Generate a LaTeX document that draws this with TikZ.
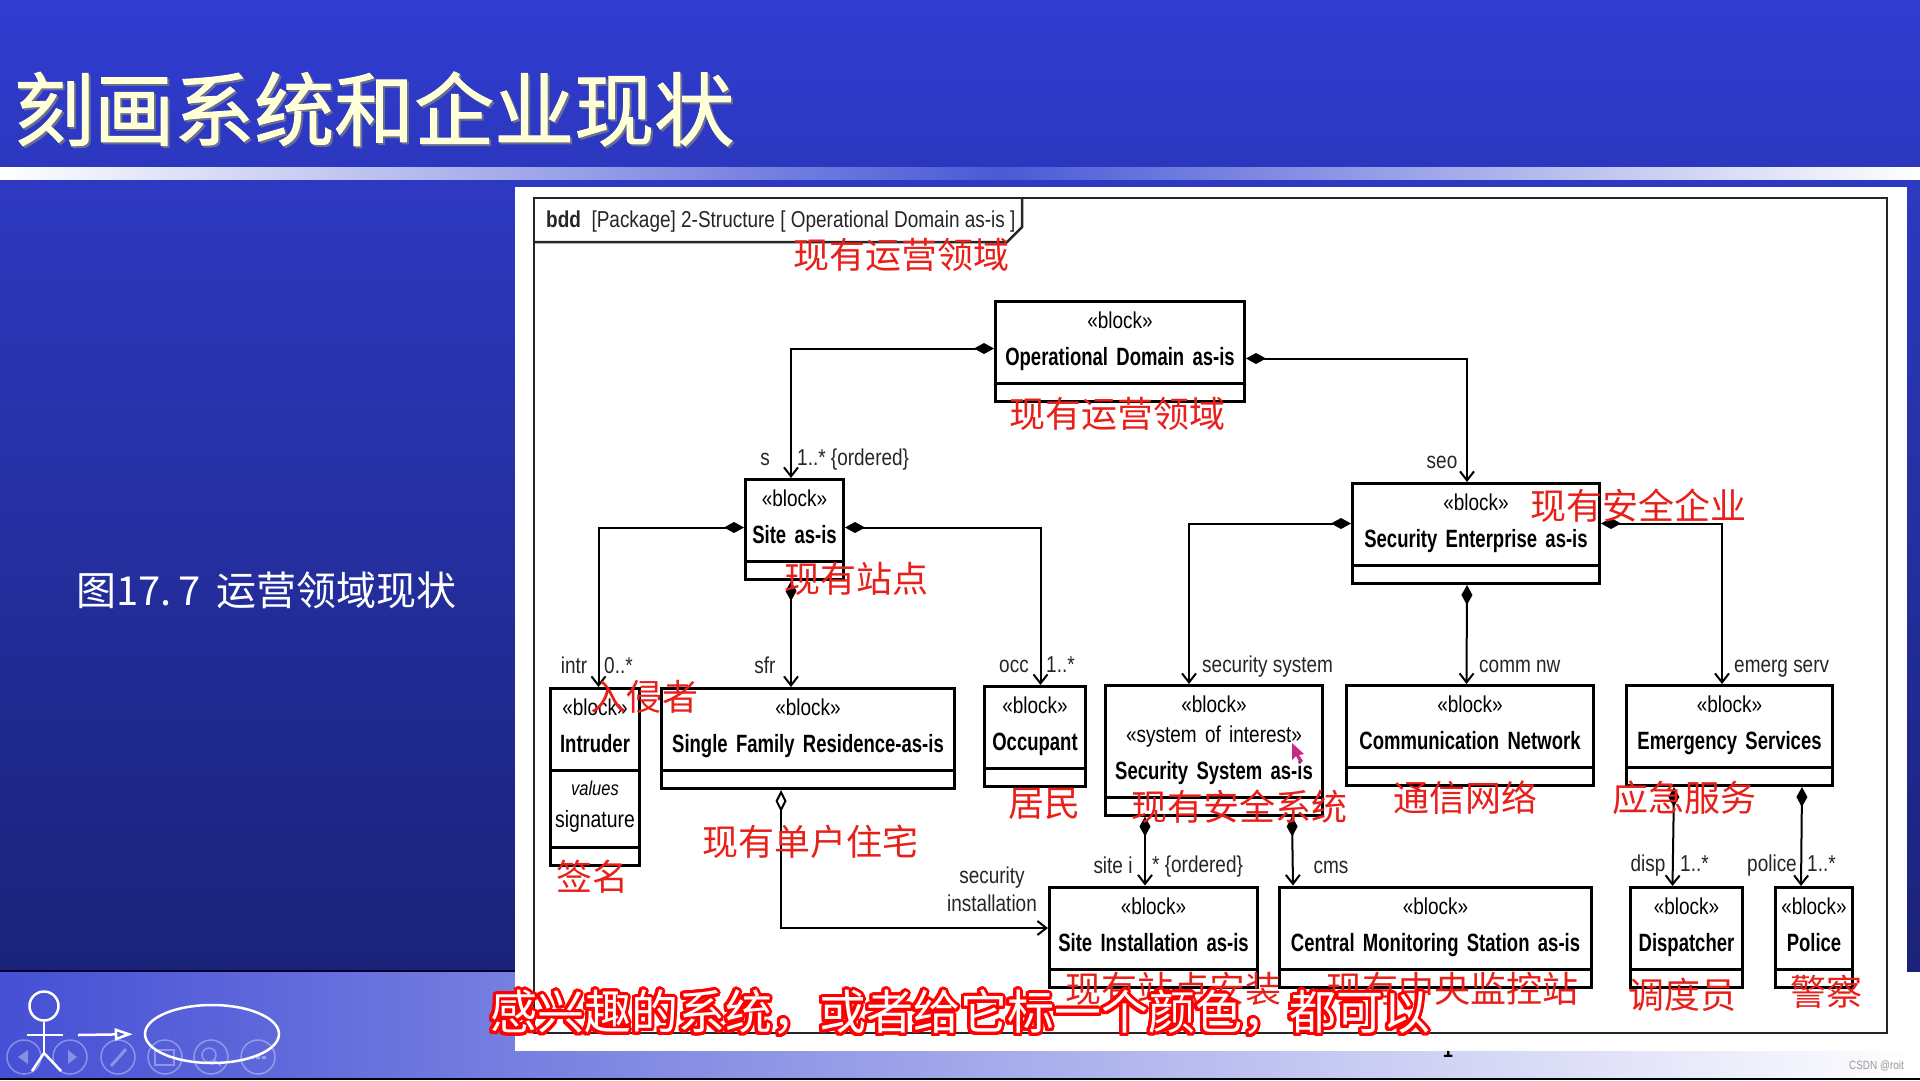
\documentclass[tikz,border=0pt]{standalone}
\usepackage{fontspec}
\usepackage{contour}
\setmainfont[FakeStretch=0.825]{Liberation Sans}
\newfontfamily\namefont[FakeStretch=0.74]{Liberation Sans}
\newfontfamily\cjkfont{Noto Sans CJK SC}
\newfontfamily\titlefont[FakeBold=1.2]{Noto Sans CJK SC}
\usetikzlibrary{arrows.meta,positioning,shapes.multipart,shapes.geometric,calc}
\contourlength{3pt}
\contournumber{32}
\newcommand{\blocktxt}[1]{\rule{0pt}{22pt}{\fontsize{23}{37}\selectfont«block»}\\\mbox{\namefont\bfseries #1}\rule[-13pt]{0pt}{1pt}}
\newcommand{\emptypart}{\rule{0pt}{8pt}}
\newcommand{\shadowtxt}[1]{\rlap{\kern2pt\raisebox{-2pt}{\color{shadowgray}#1}}#1}
\definecolor{shadowgray}{HTML}{6A6F90}
\definecolor{slideblue}{HTML}{303CD0}
\definecolor{midblue}{HTML}{2D39C0}
\definecolor{darknavy}{HTML}{1A2278}
\definecolor{cream}{HTML}{FFFFD8}
\definecolor{notered}{HTML}{E8201A}
\definecolor{bandblue}{HTML}{4A5AD6}
\begin{document}
\begin{tikzpicture}[x=1pt, y=-1pt, >=Latex,
  blok/.style={draw, rectangle split, rectangle split parts=2, rectangle split part align=center,
    line width=3pt, inner xsep=0pt, inner ysep=3.5pt, fill=white, align=center,
    font=\fontsize{25}{37}\selectfont},
  frame/.style={line width=2.5pt, black!85},
  lbl/.style={font=\fontsize{23}{28}\selectfont, inner sep=0pt, align=center, text=black!85, text height=22pt, text depth=6pt},
  lblleft/.style={lbl, anchor=west},
  note/.style={font=\cjkfont\fontsize{36}{36}\selectfont, text=notered, inner sep=0pt},
  comp/.style={line width=2pt, {Diamond[length=20pt,width=11pt]}-{Straight Barb[length=9pt,width=14pt,line width=2pt]}},
  compopen/.style={line width=2pt, {Diamond[open,length=22pt,width=11pt]}-{Straight Barb[length=9pt,width=14pt,line width=2pt]}},
  stick/.style={white, line width=2.5pt},
  navbtn/.style={circle, draw=white, opacity=0.35, line width=1.5pt, minimum size=34pt, inner sep=0pt}]
  \useasboundingbox (0,0) rectangle (1920,1080);
  % slide background
  \shade[top color=slideblue, bottom color=slideblue!92!black] (0,0) rectangle (1920,167);
  \shade[left color=white, right color=bandblue] (0,167) rectangle (1000,180);
  \shade[left color=bandblue, right color=white] (1000,167) rectangle (1920,180);
  \fill[midblue] (0,180) rectangle (1920,187);
  \shade[top color=midblue, bottom color=darknavy] (0,187) rectangle (1920,972);
  \shade[left color=slideblue!90!white, right color=white] (0,972) rectangle (1920,1078);
  \fill[black!80!blue] (0,970) rectangle (516,972);
  \fill[black] (0,1078) rectangle (1920,1080);
  \node[font=\bfseries\fontsize{22}{22}\selectfont, text=black, inner sep=0pt] (pagenum) at (1448,1050) {1};
  \fill[white] (515,187) rectangle (1907,1051);
  \fill[white] (1907,972) rectangle (1920,1078);
  \node[font=\titlefont\fontsize{80}{80}\selectfont, text=cream, anchor=west, inner sep=0pt] (title) at (14,110) {\shadowtxt{刻画系统和企业现状}};
  \node[font=\cjkfont\fontsize{40}{40}\selectfont, text=white, anchor=west, inner sep=0pt] (caption) at (76,590) {图17.\,7\ \kern7pt运营领域现状};
  % diagram frame
  \draw[frame] (534,198) rectangle (1887,1033);
  \draw[frame] (534,242) -- (1007,242) -- (1022,227) -- (1022,198);
  \node[lblleft] (framelbl) at (546,219) {\textbf{bdd}\ \ [Package] 2-Structure [ Operational Domain as-is ]};
  % blocks
  \node[blok, text width=249pt, anchor=north west] (dom) at (994,300) {\blocktxt{Operational Domain as-is}\nodepart{two}\emptypart};
  \node[blok, text width=98pt, below left=75pt and 149pt of dom] (site) {\blocktxt{Site as-is}\nodepart{two}\emptypart};
  \node[blok, text width=247pt, below right=79pt and 105pt of dom] (sec) {\blocktxt{Security Enterprise as-is}\nodepart{two}\emptypart};
  \node[blok, text width=89pt, rectangle split parts=3, below left=106pt and 103pt of site] (intr) {\blocktxt{Intruder}
    \nodepart{two}\rule{0pt}{20pt}{\fontsize{20}{31}\selectfont\textit{values}}\\[-5pt]{\fontsize{23.5}{31}\selectfont signature}\rule[-15pt]{0pt}{1pt}\nodepart{three}\emptypart};
  \node[blok, text width=293pt, below=106pt of site, xshift=13.5pt] (sfr) {\blocktxt{Single Family Residence-as-is}\nodepart{two}\emptypart};
  \node[blok, text width=101pt, below right=104pt and 138pt of site] (occ) {\blocktxt{Occupant}\nodepart{two}\emptypart};
  \node[blok, text width=217pt, below left=99pt and 27pt of sec] (secsys) {\rule{0pt}{22pt}{\fontsize{23}{37}\selectfont«block»}\\[-7.5pt]
    {\fontsize{23}{37}\selectfont«system of interest»}\\\mbox{\namefont\bfseries Security System as-is}\rule[-13pt]{0pt}{1pt}\nodepart{two}\emptypart};
  \node[blok, text width=247pt, below=99pt of sec, xshift=-6pt] (comm) {\blocktxt{Communication Network}\nodepart{two}\emptypart};
  \node[blok, text width=206pt, below right=99pt and 24pt of sec] (emerg) {\blocktxt{Emergency Services}\nodepart{two}\emptypart};
  \node[blok, text width=208pt, below=69pt of secsys, xshift=-60.5pt] (sinst) {\blocktxt{Site Installation as-is}\nodepart{two}\emptypart};
  \node[blok, text width=312pt, right=19pt of sinst] (cms) {\blocktxt{Central Monitoring Station as-is}\nodepart{two}\emptypart};
  \node[blok, text width=112pt, below right=99pt and 4pt of emerg.south west] (disp) {\blocktxt{Dispatcher}\nodepart{two}\emptypart};
  \node[blok, text width=77pt, right=30pt of disp] (police) {\blocktxt{Police}\nodepart{two}\emptypart};
  % connectors
  \draw[comp] ([yshift=3pt]dom.west) -| ([xshift=-3.5pt]site.north);
  \draw[comp] ([yshift=-7pt]dom.east) -| ([xshift=-9pt]sec.north);
  \draw[comp] ([yshift=2pt]site.west) -| ([xshift=3.5pt]intr.north);
  \draw[comp] ([xshift=-3.5pt]site.south) -- ([xshift=-17pt]sfr.north);
  \draw[comp] ([yshift=2pt]site.east) -| ([xshift=5.5pt]occ.north);
  \draw[comp] ([yshift=10pt]sec.west) -| ([xshift=-25pt]secsys.north);
  \draw[comp] ([xshift=-9pt]sec.south) -- ([xshift=-3.5pt]comm.north);
  \draw[comp] ([yshift=10pt]sec.east) -| ([xshift=-7.5pt]emerg.north);
  \draw[compopen] ([xshift=-27pt]sfr.south) |- ([yshift=9pt]sinst.west);
  \draw[comp] ([xshift=-69pt]secsys.south) -- ([xshift=-8.5pt]sinst.north);
  \draw[comp] ([xshift=78pt]secsys.south) -- ([xshift=-142.5pt]cms.north);
  \draw[comp] ([xshift=-55.5pt]emerg.south) -- ([xshift=-14pt]disp.north);
  \draw[comp] ([xshift=72.5pt]emerg.south) -- ([xshift=-13pt]police.north);
  % role names and multiplicities
  \node[lbl] (sname) at (765,457) {s};
  \node[lblleft] (smult) at (797,457) {1..* \{ordered\}};
  \node[lbl] (seoname) at (1442,460) {seo};
  \node[lbl] (intrname) at (574,665) {intr};
  \node[lblleft] (intrmult) at (604,665) {0..*};
  \node[lbl] (sfrname) at (765,665) {sfr};
  \node[lbl] (occname) at (1014,664) {occ};
  \node[lblleft] (occmult) at (1046,664) {1..*};
  \node[lblleft] (secsysname) at (1202,664) {security system};
  \node[lblleft] (commname) at (1479,664) {comm nw};
  \node[lblleft] (emergname) at (1734,664) {emerg serv};
  \node[font=\fontsize{23}{28}\selectfont, inner sep=0pt, align=center, text=black!85] (instname) at (992,889) {security\\installation};
  \node[lbl] (siteiname) at (1113,865) {site i};
  \node[lblleft] (siteimult) at (1152,864) {* \{ordered\}};
  \node[lbl] (cmsname) at (1331,865) {cms};
  \node[lbl] (dispname) at (1648,863) {disp};
  \node[lblleft] (dispmult) at (1680,863) {1..*};
  \node[lbl] (policename) at (1772,863) {police};
  \node[lblleft] (policemult) at (1807,863) {1..*};
  % red notes
  \node[note] (n1) at (901,255) {现有运营领域};
  \node[note] (n2) at (1117,414) {现有运营领域};
  \node[note] (n3) at (856,579) {现有站点};
  \node[note] (n4) at (644.5,697) {入侵者};
  \node[note] (n5) at (1638,506) {现有安全企业};
  \node[note] (n6) at (810,842) {现有单户住宅};
  \node[note] (n7) at (1044,804) {居民};
  \node[note] (n8) at (1239,807) {现有安全系统};
  \node[note] (n9) at (1465,798) {通信网络};
  \node[note] (n10) at (1684,798) {应急服务};
  \node[note] (n11) at (592,877) {签名};
  \node[note] (n12) at (1173,989) {现有站点安装};
  \node[note] (n13) at (1452,989) {现有中央监控站};
  \node[note] (n14) at (1682,995) {调度员};
  \node[note] (n15) at (1826,992) {警察};
  % pointer left on the slide
  \fill[magenta!80!black] (1292,743) -- (1292,760) -- (1296,756) -- (1300,763) -- (1303,761) -- (1299,755) -- (1304,754) -- cycle;
  % bottom band
  \node[draw=white, line width=2.5pt, circle, minimum size=29pt, inner sep=0pt] (head) at (44,1006) {};
  \coordinate (hip) at (44,1053);
  \coordinate (armcross) at (44,1035);
  \draw[stick] (head.south) -- (hip);
  \draw[stick] (27,1035) -- (armcross) -- (63,1035);
  \draw[stick] (32,1071) -- (hip) -- (61,1071);
  \node[ellipse, draw=white, line width=2.5pt, minimum width=134pt, minimum height=58pt, inner sep=0pt] (usecase) at (212,1034) {};
  \coordinate (arrowstart) at (78,1035);
  \draw[stick, -{Triangle[open,length=18pt,width=12pt]}, shorten >=11pt] (arrowstart) -- (usecase.west);
  \foreach \bx [count=\bi] in {24,70,118,165,211,258} {
    \node[navbtn] (btn\bi) at (\bx,1057) {};
  }
  \fill[white, opacity=0.35] (28,1050) -- (28,1064) -- (18,1057) -- cycle;
  \fill[white, opacity=0.35] (68,1050) -- (68,1064) -- (77,1057) -- cycle;
  \draw[white, opacity=0.35, line width=3pt] (111,1066) -- (126,1049);
  \draw[white, opacity=0.35, line width=1.5pt] (155,1050) rectangle (174,1065);
  \draw[white, opacity=0.35, line width=1.5pt] (209,1055) circle (7pt) (214,1060) -- (221,1066);
  \fill[white, opacity=0.35] (250,1056) rectangle (254,1059) (256,1056) rectangle (260,1059) (262,1056) rectangle (266,1059);
  \node[font=\fontsize{12}{12}\selectfont, text=black!40, anchor=east, inner sep=0pt] (mark) at (1904,1066) {CSDN @roit};
  % spoken line
  \node[font=\cjkfont\fontsize{47}{47}\selectfont, text=white, inner sep=0pt] (spoken) at (960,1014) {\contour{red}{感兴趣的系统，或者给它标一个颜色，都可以}};
\end{tikzpicture}
\end{document}
